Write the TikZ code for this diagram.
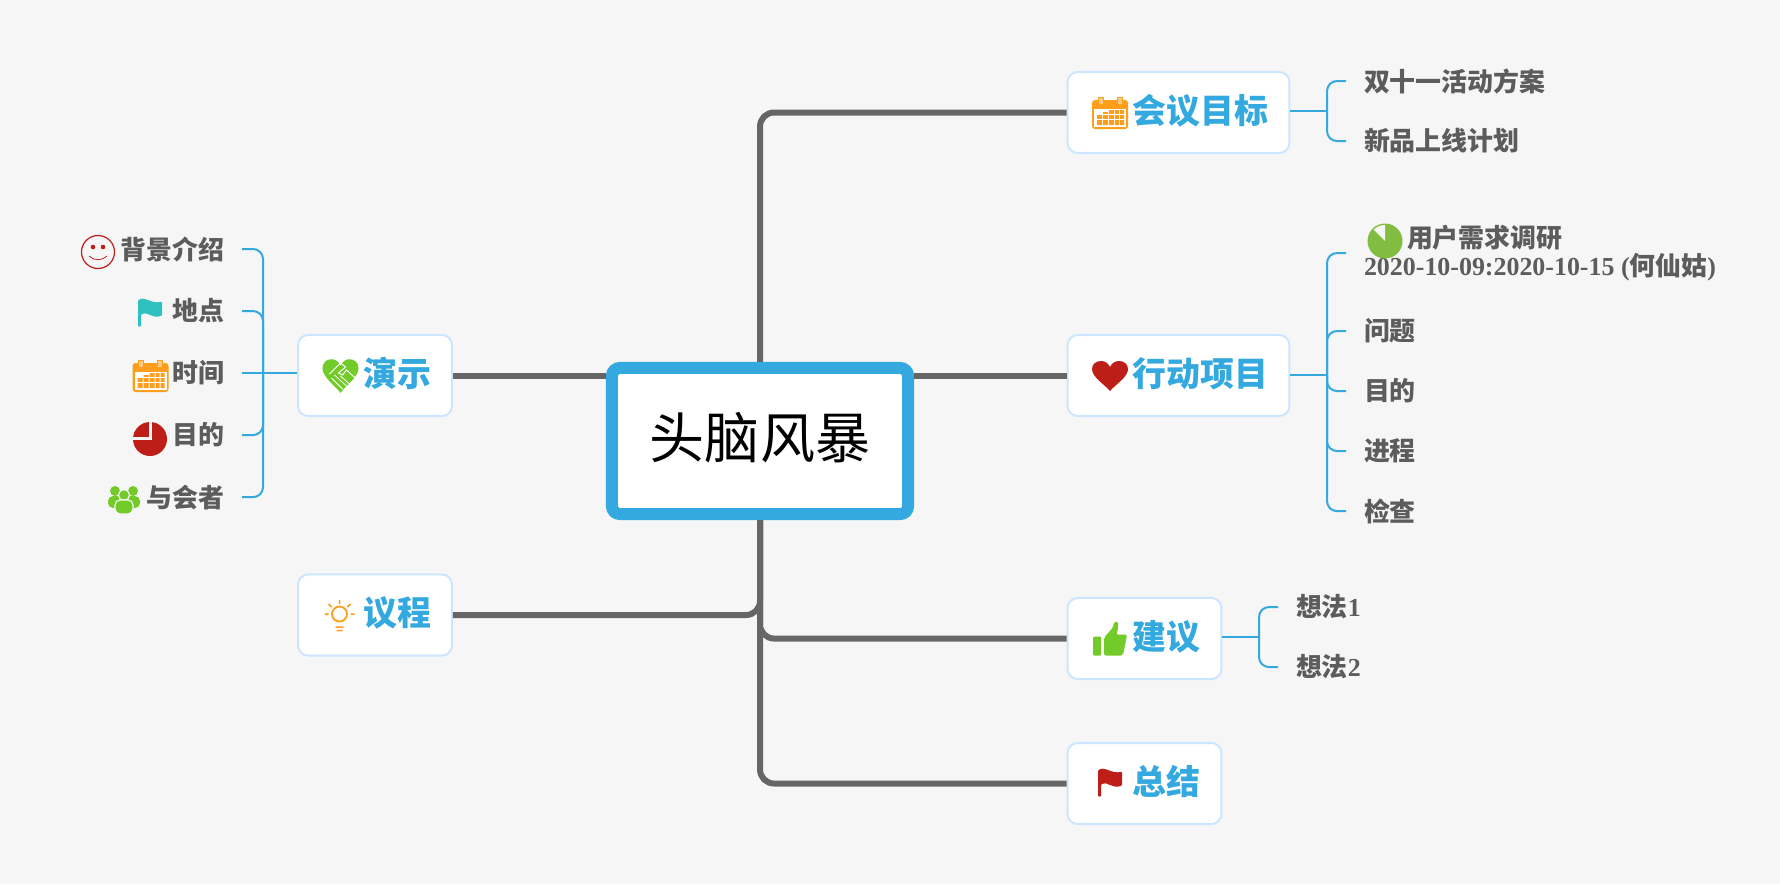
\documentclass[tikz,border=0pt]{standalone}
\usepackage{fontspec}
\setmainfont{Liberation Serif}
\newfontfamily\cjk{Noto Sans CJK SC}
\usetikzlibrary{positioning}
\definecolor{Ground}{HTML}{F6F6F6}
\definecolor{MindBlue}{HTML}{33A9E0}
\definecolor{PaleBlue}{HTML}{CCE6FF}
\definecolor{TrunkGray}{HTML}{666666}
\definecolor{ItemGray}{HTML}{5C5C5C}
\definecolor{IconRed}{HTML}{BE1E18}
\definecolor{IconOrange}{HTML}{FF9E1B}
\definecolor{IconGreen}{HTML}{73CB2A}
\definecolor{IconTeal}{HTML}{2FC0C0}
\definecolor{PieGreen}{HTML}{80BD40}
\tikzset{
  central/.style={
    rounded corners=0.08cm, draw=MindBlue, line width=0.12cm, fill=white,
    minimum width=2.96cm, minimum height=1.46cm, inner sep=0pt,
    text height=0.5cm, text depth=0.16cm,
    font=\cjk\fontsize{15.65}{18}\selectfont
  },
  branch/.style={
    rounded corners=0.1cm, draw=PaleBlue, line width=0.02cm, fill=white,
    minimum height=0.81cm, inner xsep=0.21cm, inner ysep=0pt, text=MindBlue,
    text height=0.26cm, text depth=0.05cm,
    font=\bfseries\cjk\fontsize{9.64}{11}\selectfont,
    execute at begin node=\hspace*{0.44cm}
  },
  item/.style={
    anchor=west, inner sep=0pt, outer xsep=0.18cm, text=ItemGray,
    font=\bfseries\cjk\fontsize{7.37}{7.94}\selectfont
  },
  sideitem/.style={item, anchor=east},
  trunk/.style={line width=0.06cm, draw=TrunkGray, rounded corners=0.14cm},
  twig/.style={line width=0.02cm, draw=MindBlue, rounded corners=0.1cm},
  calendaricon/.pic={
    \fill[IconOrange, rounded corners=0.03cm] (-18,-13) rectangle (18,16);
    \fill[white] (-16,-4) rectangle (16,14);
    \fill[IconOrange] (-13,2) rectangle (-8,12) (-7,-1) rectangle (-2,12);
    \fill[IconOrange] (-1,-3) rectangle (4,12) (5,-3) rectangle (9,12) (10,-3) rectangle (14,12);
    \draw[white, line width=0.008cm] (-14,6.5)--(15,6.5) (-14,1.5)--(15,1.5);
    \fill[IconOrange!55, draw=IconOrange, line width=0.006cm] (-12,-16) rectangle (-7,-9) (7,-16) rectangle (12,-9);
  },
  smileicon/.pic={
    \draw[IconRed, line width=0.012cm] (0,0) circle[radius=16.5];
    \fill[IconRed] (-5,-5) circle[radius=2.3] (5,-5) circle[radius=2.3];
    \draw[IconRed, line width=0.008cm] (-9,4) .. controls (-4,9) and (4,9) .. (9,4);
  },
  flagicon/.pic={
    \fill[pic actions, rounded corners=0.01cm] (-12,14) -- (-12,-12) .. controls (-6,-17) and (2,-8) .. (12,-11) -- (12,3) .. controls (2,7) and (-3,-2) .. (-9,2) -- (-9,14) -- cycle;
  },
  pieicon/.pic={
    \fill[IconRed] (0,0) circle[radius=17];
    \draw[Ground, line width=0.03cm] (0.5,-18) -- (0.5,-1) -- (-18,-1);
  },
  slicepieicon/.pic={
    \fill[PieGreen] (0,0) circle[radius=17.5];
    \fill[Ground] (0,0) -- (0,-16) arc[start angle=-90, end angle=-135, radius=16] -- cycle;
  },
  peopleicon/.pic={
    \fill[IconGreen] (-9,-9) circle[radius=5] (9,-9) circle[radius=5];
    \fill[IconGreen, rounded corners=0.05cm] (-16,8) -- (-16,-4) -- (16,-4) -- (16,8) -- cycle;
    \fill[IconGreen, draw=Ground, line width=0.012cm] (0,-5) circle[radius=5.5];
    \fill[IconGreen, draw=Ground, line width=0.012cm, rounded corners=0.05cm] (-9,14) -- (-9,0) -- (9,0) -- (9,14) -- cycle;
  },
  hearticon/.pic={
    \fill[pic actions] (0,15) .. controls (-6,8) and (-18,1) .. (-18,-7) .. controls (-18,-12) and (-14,-15) .. (-9,-15) .. controls (-5,-15) and (-2,-13) .. (0,-9) .. controls (2,-13) and (5,-15) .. (9,-15) .. controls (14,-15) and (18,-12) .. (18,-7) .. controls (18,1) and (6,8) .. (0,15) -- cycle;
  },
  handsicon/.pic={
    \pic[fill=IconGreen, yscale=1.12] {hearticon};
    \draw[white, line width=0.01cm] (-11,-2) -- (0,-13) -- (5,-9) -- (-2,-3) -- (2,-1) -- (6,-6) -- (16,3) (16,3) -- (3,14);
    \draw[white, line width=0.008cm] (-9,2) -- (2,13) (-6,-1) -- (6,10) (0,0) -- (9,8) (-12,6) -- (-3,15);
  },
  bulbicon/.pic={
    \draw[IconOrange, line width=0.018cm] (0,-1) circle[radius=7.5];
    \draw[IconOrange, line width=0.015cm] (-4,12)--(4,12) (-3,15.5)--(3,15.5) (0,-15)--(0,-11) (-11,-11)--(-8,-8) (11,-11)--(8,-8) (-15,-1)--(-11,-1) (15,-1)--(11,-1);
  },
  thumbicon/.pic={
    \fill[IconGreen, rounded corners=0.01cm] (-17,-2) rectangle (-9,17);
    \fill[IconGreen, rounded corners=0.02cm] (-6,17) -- (-6,-1) -- (3,-11) -- (4,-17) -- (8,-17) -- (8,-8) -- (6,-4) -- (17,-4) -- (13,17) -- cycle;
  }
}
\begin{document}
\begin{tikzpicture}[x=0.01cm,y=-0.01cm]
  \useasboundingbox[fill=Ground] (0,0) rectangle (1780,884);
  \node[central] (brain) at (760,441) {头脑风暴};
  % branches
  \node[branch] (meeting) at (1178.5,112.5) {会议目标};
  \node[branch] (action) at (1178.5,375.5) {行动项目};
  \node[branch] (advice) at (1144.5,638.5) {建议};
  \node[branch] (summary) at (1144.5,783.5) {总结};
  \node[branch] (show) at (375,375.5) {演示};
  \node[branch] (agenda) at (375,615) {议程};
  \draw[trunk] (brain.north) |- (meeting.west);
  \draw[trunk] (brain.south) |- (advice.west);
  \draw[trunk] (brain.south) |- (summary.west);
  \draw[trunk] (brain.south) |- (agenda.east);
  \draw[trunk] (brain.east |- action.west) -- (action.west);
  \draw[trunk] (brain.west |- show.east) -- (show.east);
  % items
  \node[item] (plan) at (1346,81) {双十一活动方案};
  \node[item,below=0.6cm of plan.west,anchor=west] (launch) {新品上线计划};
  \node[item,align=left] (survey) at (1346,253) {\hspace*{0.43cm}用户需求调研\\{\rmfamily 2020-10-09:2020-10-15 (}何仙姑{\rmfamily )}};
  \node[item] (issue) at (1346,331) {问题};
  \node[item,below=0.6cm of issue.west,anchor=west] (purpose) {目的};
  \node[item,below=0.6cm of purpose.west,anchor=west] (progress) {进程};
  \node[item,below=0.6cm of progress.west,anchor=west] (review) {检查};
  \node[item] (idea) at (1278,607) {想法{\rmfamily 1}};
  \node[item,below=0.6cm of idea.west,anchor=west] (ideb) {想法{\rmfamily 2}};
  \node[sideitem] (background) at (242,249) {背景介绍};
  \node[sideitem,below=0.62cm of background.east,anchor=east] (place) {地点};
  \node[sideitem,below=0.62cm of place.east,anchor=east] (time) {时间};
  \node[sideitem,below=0.62cm of time.east,anchor=east] (aim) {目的};
  \node[sideitem,below=0.62cm of aim.east,anchor=east] (attendee) {与会者};
  % forks
  \coordinate (meetingfork) at (1327,111);
  \coordinate (actionfork) at (1327,375);
  \coordinate (advicefork) at (1259,637);
  \coordinate (showfork) at (263,373);
  \draw[twig] (meetingfork) -- (meetingfork -| meeting.east);
  \draw[twig] (plan.west) -| (meetingfork) |- (launch.west);
  \draw[twig] (actionfork) -- (actionfork -| action.east);
  \draw[twig] (survey.west) -| (actionfork) |- (review.west);
  \draw[twig] (issue.west) -| (actionfork);
  \draw[twig] (purpose.west) -| (actionfork);
  \draw[twig] (progress.west) -| (actionfork);
  \draw[twig] (advicefork) -- (advicefork -| advice.east);
  \draw[twig] (idea.west) -| (advicefork) |- (ideb.west);
  \draw[twig] (time.east) -- (time.east -| show.west);
  \draw[twig] (background.east) -| (showfork) |- (attendee.east);
  \draw[twig] (place.east) -| (showfork);
  \draw[twig] (aim.east) -| (showfork);
  % icons
  \pic at (1110,113) {calendaricon};
  \pic[fill=IconRed] at (1110,376) {hearticon};
  \pic at (1110,638.5) {thumbicon};
  \pic[fill=IconRed] at (1110,782.5) {flagicon};
  \pic at (340.5,376) {handsicon};
  \pic at (339.5,615) {bulbicon};
  \pic at (98,252) {smileicon};
  \pic[fill=IconTeal] at (150,312.5) {flagicon};
  \pic at (150.5,376) {calendaricon};
  \pic at (150,439) {pieicon};
  \pic at (124,500) {peopleicon};
  \pic at (1385,241) {slicepieicon};
\end{tikzpicture}
\end{document}
